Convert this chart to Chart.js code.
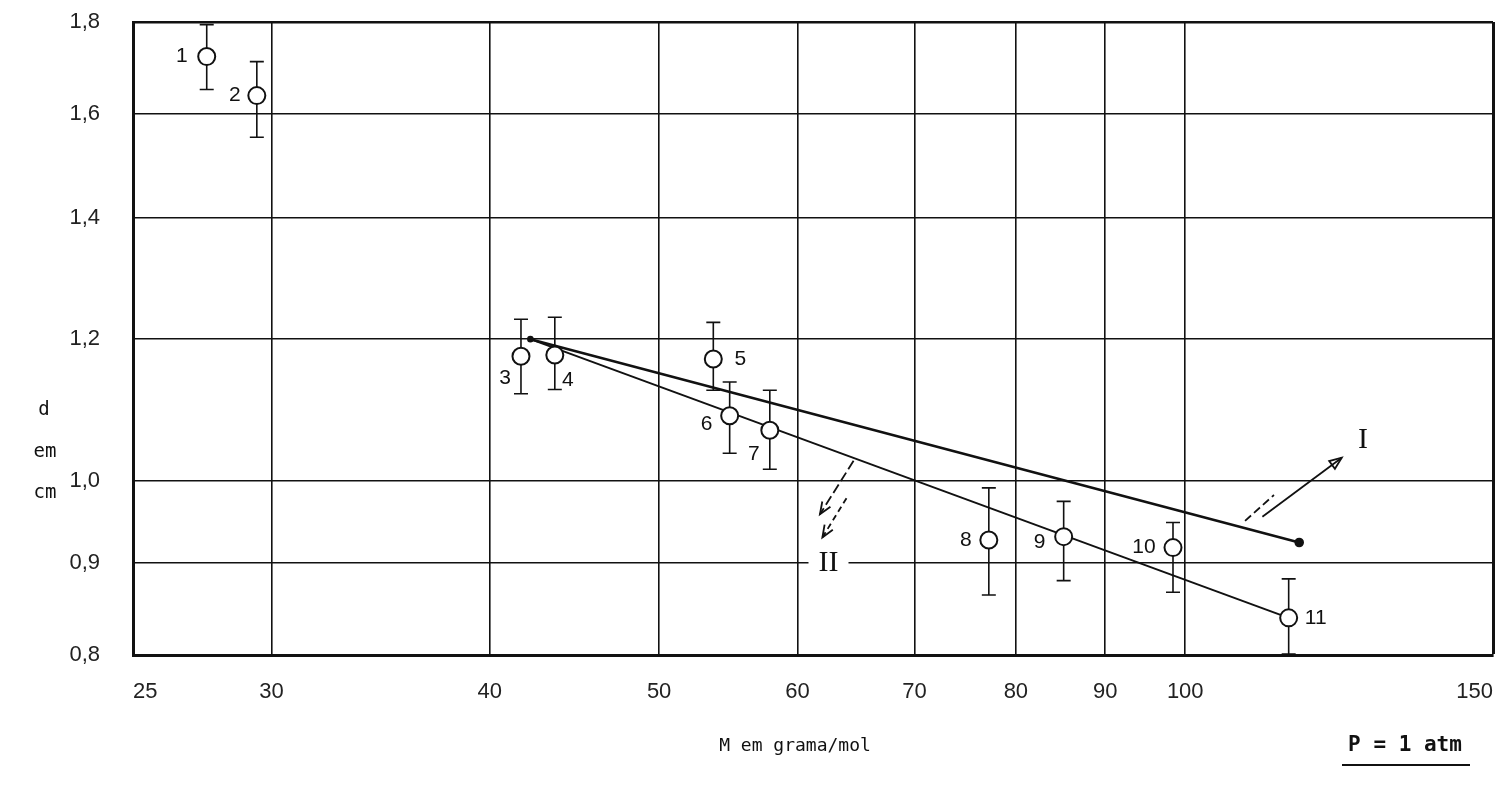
<!DOCTYPE html>
<html>
<head>
<meta charset="utf-8">
<script src="https://cdn.jsdelivr.net/npm/chart.js@4.4.1/dist/chart.umd.min.js"></script>
<style>
  html,body{margin:0;padding:0;background:#fff;}
  #wrap{width:1506px;height:791px;}
</style>
</head>
<body>
<div id="wrap"><canvas id="c" width="1506" height="791"></canvas></div>
<script>
const massTicks = [25, 30, 40, 50, 60, 70, 80, 90, 100, 150];
const dTicks = [0.8, 0.9, 1.0, 1.2, 1.4, 1.6, 1.8];

const pointNo  = ['1','2','3','4','5','6','7','8','9','10','11'];
const massM    = [27.55, 29.43, 41.68, 43.58, 53.7, 54.87, 57.85, 77.2, 85.2, 98.4, 114.6];
const diamD    = [1.722, 1.638, 1.173, 1.175, 1.169, 1.087, 1.067, 0.927, 0.931, 0.918, 0.839];
const diamLow  = [1.651, 1.553, 1.118, 1.124, 1.123, 1.036, 1.015, 0.864, 0.880, 0.867, 0.801];
const diamHigh = [1.794, 1.711, 1.230, 1.233, 1.225, 1.135, 1.123, 0.991, 0.974, 0.948, 0.882];

const lineI_M  = [42.2, 116.2];
const lineI_d  = [1.199, 0.924];
const lineII_M = [42.2, 114.6];
const lineII_d = [1.199, 0.839];

// arrows pointing at the two lines, in data units (M, d)
const arrowI      = [[110.7, 0.955], [122.9, 1.030]];
const arrowIdash  = [[108.2, 0.950], [112.4, 0.982]];
const labelIpos   = [126.4, 1.053];
const arrowII     = [[64.6, 1.026], [61.8, 0.958]];
const arrowIIdash = [[64.0, 0.978], [62.0, 0.930]];
const labelIIpos  = [62.5, 0.900];

// where each point number sits relative to its circle (px)
const labelDx = [-25, -22, -16, 13, 27, -23, -16, -23, -24, -29, 27];
const labelDy = [0, 0, 22, 25, 0, 9, 24, 0, 6, 0, 0];

const tickFont = { family: 'Liberation Sans', size: 22 };
const ink = '#111';

function noEdgePad(s) {
  s.paddingTop = 0; s.paddingBottom = 0; s.paddingLeft = 0; s.paddingRight = 0;
}

function arrow(ctx, x1, y1, x2, y2, head, dash) {
  ctx.save();
  ctx.setLineDash(dash || []);
  ctx.beginPath(); ctx.moveTo(x1, y1); ctx.lineTo(x2, y2); ctx.stroke();
  ctx.setLineDash([]);
  if (head) {
    const a = Math.atan2(y2 - y1, x2 - x1), L = 13, w = 0.38;
    ctx.beginPath();
    ctx.moveTo(x2 - L * Math.cos(a - w), y2 - L * Math.sin(a - w));
    ctx.lineTo(x2, y2);
    ctx.lineTo(x2 - L * Math.cos(a + w), y2 - L * Math.sin(a + w));
    if (head === 'open') ctx.closePath();
    ctx.stroke();
  }
  ctx.restore();
}

const decor = {
  id: 'decor',
  beforeDatasetsDraw(chart) {
    const { ctx, scales: { x, y } } = chart;
    ctx.save();
    ctx.strokeStyle = ink; ctx.lineWidth = 1.6;
    massM.forEach((m, i) => {
      const px = x.getPixelForValue(m);
      const top = y.getPixelForValue(diamHigh[i]), bot = y.getPixelForValue(diamLow[i]);
      ctx.beginPath();
      ctx.moveTo(px, top); ctx.lineTo(px, bot);
      ctx.moveTo(px - 7, top); ctx.lineTo(px + 7, top);
      ctx.moveTo(px - 7, bot); ctx.lineTo(px + 7, bot);
      ctx.stroke();
    });
    ctx.restore();
  },
  afterDraw(chart) {
    const { ctx, scales: { x, y } } = chart;
    const P = p => [x.getPixelForValue(p[0]), y.getPixelForValue(p[1])];
    ctx.save();
    ctx.fillStyle = ink; ctx.strokeStyle = ink;
    ctx.textAlign = 'center'; ctx.textBaseline = 'middle';

    // point numbers
    ctx.font = '21px "Liberation Sans"';
    massM.forEach((m, i) => {
      ctx.fillText(pointNo[i], x.getPixelForValue(m) + labelDx[i], y.getPixelForValue(diamD[i]) + labelDy[i]);
    });

    // arrow + label for line I
    ctx.lineWidth = 1.8;
    let a = P(arrowI[0]), b = P(arrowI[1]);
    arrow(ctx, a[0], a[1], b[0], b[1], 'open');
    a = P(arrowIdash[0]); b = P(arrowIdash[1]);
    arrow(ctx, a[0], a[1], b[0], b[1], null, [8, 4]);
    ctx.font = '30px "Liberation Serif"';
    let l = P(labelIpos);
    ctx.fillText('I', l[0], l[1]);

    // arrow + label for line II
    a = P(arrowII[0]); b = P(arrowII[1]);
    arrow(ctx, a[0], a[1], b[0], b[1], 'line', [10, 4]);
    a = P(arrowIIdash[0]); b = P(arrowIIdash[1]);
    arrow(ctx, a[0], a[1], b[0], b[1], 'line', [6, 4]);
    l = P(labelIIpos);
    ctx.fillStyle = '#fff';
    ctx.fillRect(l[0] - 20, l[1] - 14, 40, 28);
    ctx.fillStyle = ink;
    ctx.fillText('II', l[0], l[1]);

    // axis titles
    ctx.font = '19px "DejaVu Sans Mono"';
    ctx.fillText('d', 44, 410);
    ctx.fillText('em', 45, 452);
    ctx.fillText('cm', 45, 493);
    ctx.font = '18px "DejaVu Sans Mono"';
    ctx.fillText('M em grama/mol', 795, 746);
    ctx.font = 'bold 21px "DejaVu Sans Mono"';
    ctx.fillText('P = 1 atm', 1405, 746);
    ctx.lineWidth = 2;
    ctx.beginPath(); ctx.moveTo(1342, 765); ctx.lineTo(1470, 765); ctx.stroke();
    ctx.restore();
  }
};

new Chart(document.getElementById('c'), {
  type: 'scatter',
  data: {
    datasets: [
      {
        label: 'pontos',
        data: massM.map((m, i) => ({ x: m, y: diamD[i] })),
        pointRadius: 8.5,
        pointBorderWidth: 2,
        pointBackgroundColor: '#fff',
        pointBorderColor: ink,
        order: 0
      },
      {
        type: 'line',
        label: 'I',
        data: lineI_M.map((m, i) => ({ x: m, y: lineI_d[i] })),
        borderColor: ink,
        borderWidth: 2.6,
        pointRadius: [2, 3.5],
        pointBackgroundColor: ink,
        pointBorderColor: ink,
        order: 1
      },
      {
        type: 'line',
        label: 'II',
        data: lineII_M.map((m, i) => ({ x: m, y: lineII_d[i] })),
        borderColor: ink,
        borderWidth: 2,
        pointRadius: 0,
        order: 1
      }
    ]
  },
  options: {
    responsive: false,
    animation: false,
    layout: { padding: { top: 22, right: 13, left: 0, bottom: 0 } },
    plugins: { legend: { display: false }, tooltip: { enabled: false } },
    scales: {
      x: {
        type: 'logarithmic',
        min: 25, max: 150,
        afterBuildTicks: s => { s.ticks = massTicks.map(v => ({ value: v })); },
        afterFit: s => { s.height = 136; noEdgePad(s); },
        ticks: {
          callback: v => String(v),
          align: 'inner',
          autoSkip: false, maxRotation: 0,
          padding: 24,
          font: tickFont, color: '#222'
        },
        grid: {
          color: ink,
          lineWidth: c => (c.tick && c.tick.value === 150) ? 3 : 1.6,
          drawTicks: false
        },
        border: { display: true, color: ink, width: 3 }
      },
      y: {
        type: 'logarithmic',
        min: 0.8, max: 1.8,
        afterBuildTicks: s => { s.ticks = dTicks.map(v => ({ value: v })); },
        afterFit: s => { s.width = 133; noEdgePad(s); },
        ticks: {
          callback: v => v.toFixed(1).replace('.', ','),
          autoSkip: false,
          padding: 33,
          font: tickFont, color: '#222'
        },
        grid: {
          color: ink,
          lineWidth: c => (c.tick && c.tick.value === 1.8) ? 2.6 : 1.6,
          drawTicks: false
        },
        border: { display: true, color: ink, width: 3 }
      }
    }
  },
  plugins: [decor]
});
</script>
</body>
</html>
